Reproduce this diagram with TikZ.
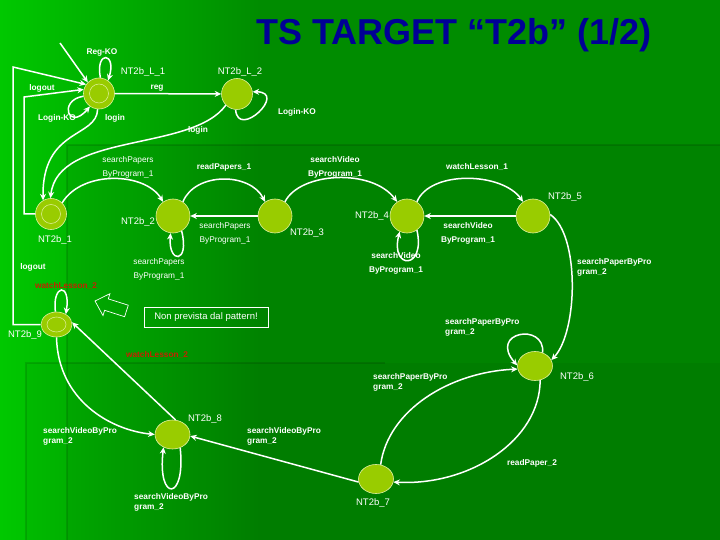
\documentclass[tikz,border=0pt]{standalone}
\usepackage{fontspec}
\setmainfont{Liberation Sans}
\usetikzlibrary{arrows.meta,shapes.geometric}
\definecolor{bgdark}{RGB}{0,140,0}
\definecolor{bglight}{RGB}{0,200,0}
\definecolor{nodegreen}{RGB}{153,204,0}
\definecolor{nodeline}{RGB}{225,240,160}
\definecolor{titleblue}{RGB}{0,0,150}
\definecolor{redlab}{RGB}{195,35,0}
\tikzset{
  st/.style={circle, fill=nodegreen, draw=nodeline, line width=0.6pt, minimum size=31pt, inner sep=0pt},
  bigst/.style={st, minimum size=34pt},
  ell/.style={ellipse, fill=nodegreen, draw=nodeline, line width=0.6pt, minimum width=35pt, minimum height=29pt, inner sep=0pt},
  edge/.style={draw=white, line width=1.5pt, -{Stealth[length=6.5pt,width=6pt]}},
  lab/.style={text=white, inner sep=0pt, font=\bfseries\fontsize{8.3}{14}\selectfont, align=center},
  labr/.style={text=white, inner sep=0pt, font=\fontsize{8.3}{14}\selectfont, align=center},
  labl/.style={text=white, inner sep=0pt, font=\bfseries\fontsize{8.3}{10}\selectfont, align=left, anchor=west},
  rlab/.style={text=redlab, inner sep=0pt, font=\bfseries\fontsize{8.3}{10}\selectfont},
  nlab/.style={text=white, inner sep=0pt, font=\fontsize{9.5}{10}\selectfont}
}
\begin{document}
\begin{tikzpicture}[x=1pt,y=-1pt]
\useasboundingbox (0,0) rectangle (720,540);
% background
\fill[bgdark] (0,0) rectangle (720,540);
\shade[left color=bglight, right color=bgdark] (0,0) rectangle (260,540);
\fill[black, opacity=0.06] (67,145) rectangle (720,540);
\fill[black, opacity=0.04] (26,363) rectangle (720,540);
\draw[black, opacity=0.12, line width=2pt] (67,540) -- (67,145) -- (720,145);
\draw[black, opacity=0.12, line width=2pt] (26,540) -- (26,363) -- (385,363);
% title
\node[text=titleblue, font=\bfseries\fontsize{36}{38}\selectfont, anchor=base] (title) at (454,45) {TS TARGET “T2b” (1/2)};
% states
\node[st] (L1) at (99,93.5) {};
\node[st] (L2) at (237,94) {};
\node[st] (N1) at (51,214) {};
\node[bigst] (N2) at (173,216) {};
\node[bigst] (N3) at (275,216) {};
\node[bigst] (N4) at (407,216) {};
\node[bigst] (N5) at (533,216) {};
\node[ell] (N6) at (535,366) {};
\node[ell] (N7) at (376,479) {};
\node[ell] (N8) at (172.5,434.5) {};
\node[ell, minimum width=31pt, minimum height=25pt] (N9) at (56.5,324.5) {};
\draw[nodeline, line width=0.5pt] (L1) circle (9.5);
\draw[nodeline, line width=0.5pt] (N1) circle (9.5);
\draw[nodeline, line width=0.5pt] (N9) ellipse (9.5 and 7.5);
% state labels
\node[nlab] (tL1) at (143,72) {NT2b\_L\_1};
\node[nlab] (tL2) at (240,72) {NT2b\_L\_2};
\node[nlab] (t1) at (55,240) {NT2b\_1};
\node[nlab] (t2) at (138,222) {NT2b\_2};
\node[nlab] (t3) at (307,233) {NT2b\_3};
\node[nlab] (t4) at (372,216) {NT2b\_4};
\node[nlab] (t5) at (565,197) {NT2b\_5};
\node[nlab] (t6) at (577,377) {NT2b\_6};
\node[nlab] (t7) at (373,503) {NT2b\_7};
\node[nlab] (t8) at (205,419) {NT2b\_8};
\node[nlab] (t9) at (25,335) {NT2b\_9};
% initial arrow
\coordinate (i0) at (60,43);
\draw[edge] (i0) -- (L1.135);
% edges
\draw[edge] (L1.85) .. controls (95,50) and (117,52) .. (L1.55);
\draw[edge] (L1) -- (L2);
\draw[edge] (L1.190) .. controls (58,100) and (68,132) .. (L1.235);
\draw[edge] (L2.265) .. controls (238,140) and (288,92) .. (L2.8);
\draw[edge] (L1.265) .. controls (97,138) and (42,128) .. (N1.120);
\draw[edge] (L2.225) .. controls (192,152) and (58,132) .. (N1.92);
\coordinate (c1) at (24,97);
\coordinate (c2) at (13,67);
\draw[edge] (N1.west) -| (c1) -- (L1.165);
\draw[edge] (N9.west) -| (c2) -- (L1.145);
\draw[edge] (N1.45) .. controls (82,170) and (145,172) .. (N2.125);
\draw[edge] (N2.55) .. controls (195,172) and (250,172) .. (N3.125);
\draw[edge] (N3) -- (N2);
\draw[edge] (N2.300) .. controls (190,264) and (168,264) .. (N2.262);
\draw[edge] (N3.55) .. controls (300,172) and (372,168) .. (N4.125);
\draw[edge] (N4.55) .. controls (430,170) and (502,172) .. (N5.125);
\draw[edge] (N5) -- (N4);
\draw[edge] (N4.305) .. controls (426,270) and (390,270) .. (N4.245);
\draw[edge] (N5.5) .. controls (580,235) and (578,332) .. (N6.20);
\draw[edge] (N6.60) .. controls (545,322) and (488,332) .. (N6.178);
\draw[edge] (N7.72) .. controls (388,410) and (450,372) .. (N6.190);
\draw[edge] (N6.290) .. controls (540,440) and (470,486) .. (N7.350);
\draw[edge] (N7.190) -- (N8.355);
\draw[edge] (N8.300) .. controls (186,502) and (157,502) .. (N8.235);
\draw[edge] (N9.270) .. controls (58,400) and (110,430) .. (N8.180);
\draw[edge] (N8.78) -- (N9.8);
\draw[edge] (N9.95) .. controls (52,284) and (71,282) .. (N9.48);
% edge labels
\node[lab] (e1) at (102,52) {Reg-KO};
\node[lab] (e2) at (157,88) {reg};
\node[lab] (e3) at (42,88) {logout};
\node[lab] (e4) at (57,118) {Login-KO};
\node[lab] (e5) at (115,118) {login};
\node[lab] (e6) at (297,112) {Login-KO};
\node[lab] (e7) at (198,130) {login};
\node[labr] (e8) at (128,167.5) {searchPapers\\ByProgram\_1};
\node[lab] (e9) at (224,167) {readPapers\_1};
\node[labr] (e10) at (225,233.5) {searchPapers\\ByProgram\_1};
\node[labr] (e11) at (159,269) {searchPapers\\ByProgram\_1};
\node[lab] (e12) at (335,167) {searchVideo\\ByProgram\_1};
\node[lab] (e13) at (477,167) {watchLesson\_1};
\node[lab] (e14) at (468,233) {searchVideo\\ByProgram\_1};
\node[lab] (e15) at (396,263) {searchVideo\\ByProgram\_1};
\node[labl] (e16) at (577,267) {searchPaperByPro\\gram\_2};
\node[labl] (e17) at (445,327) {searchPaperByPro\\gram\_2};
\node[labl] (e18) at (373,382) {searchPaperByPro\\gram\_2};
\node[lab] (e19) at (532,463) {readPaper\_2};
\node[labl] (e20) at (43,436) {searchVideoByPro\\gram\_2};
\node[labl] (e21) at (247,436) {searchVideoByPro\\gram\_2};
\node[labl] (e22) at (134,502) {searchVideoByPro\\gram\_2};
\node[lab] (e23) at (33,267) {logout};
\node[rlab] (e24) at (66,286) {watchLesson\_2};
\node[rlab] (e25) at (157,355) {watchLesson\_2};
% note
\node[draw=white, line width=0.7pt, text=white, font=\fontsize{9.5}{10}\selectfont, minimum width=124pt, minimum height=20pt, inner sep=2pt] (note) at (206,317) {Non prevista dal pattern!};
\draw[white, line width=0.7pt] (95,301) -- (103,315.6) -- (104.6,310.3) -- (124.6,316.7) -- (128.3,305.2) -- (108.3,298.9) -- (109.9,293.7) -- cycle;
\end{tikzpicture}
\end{document}
